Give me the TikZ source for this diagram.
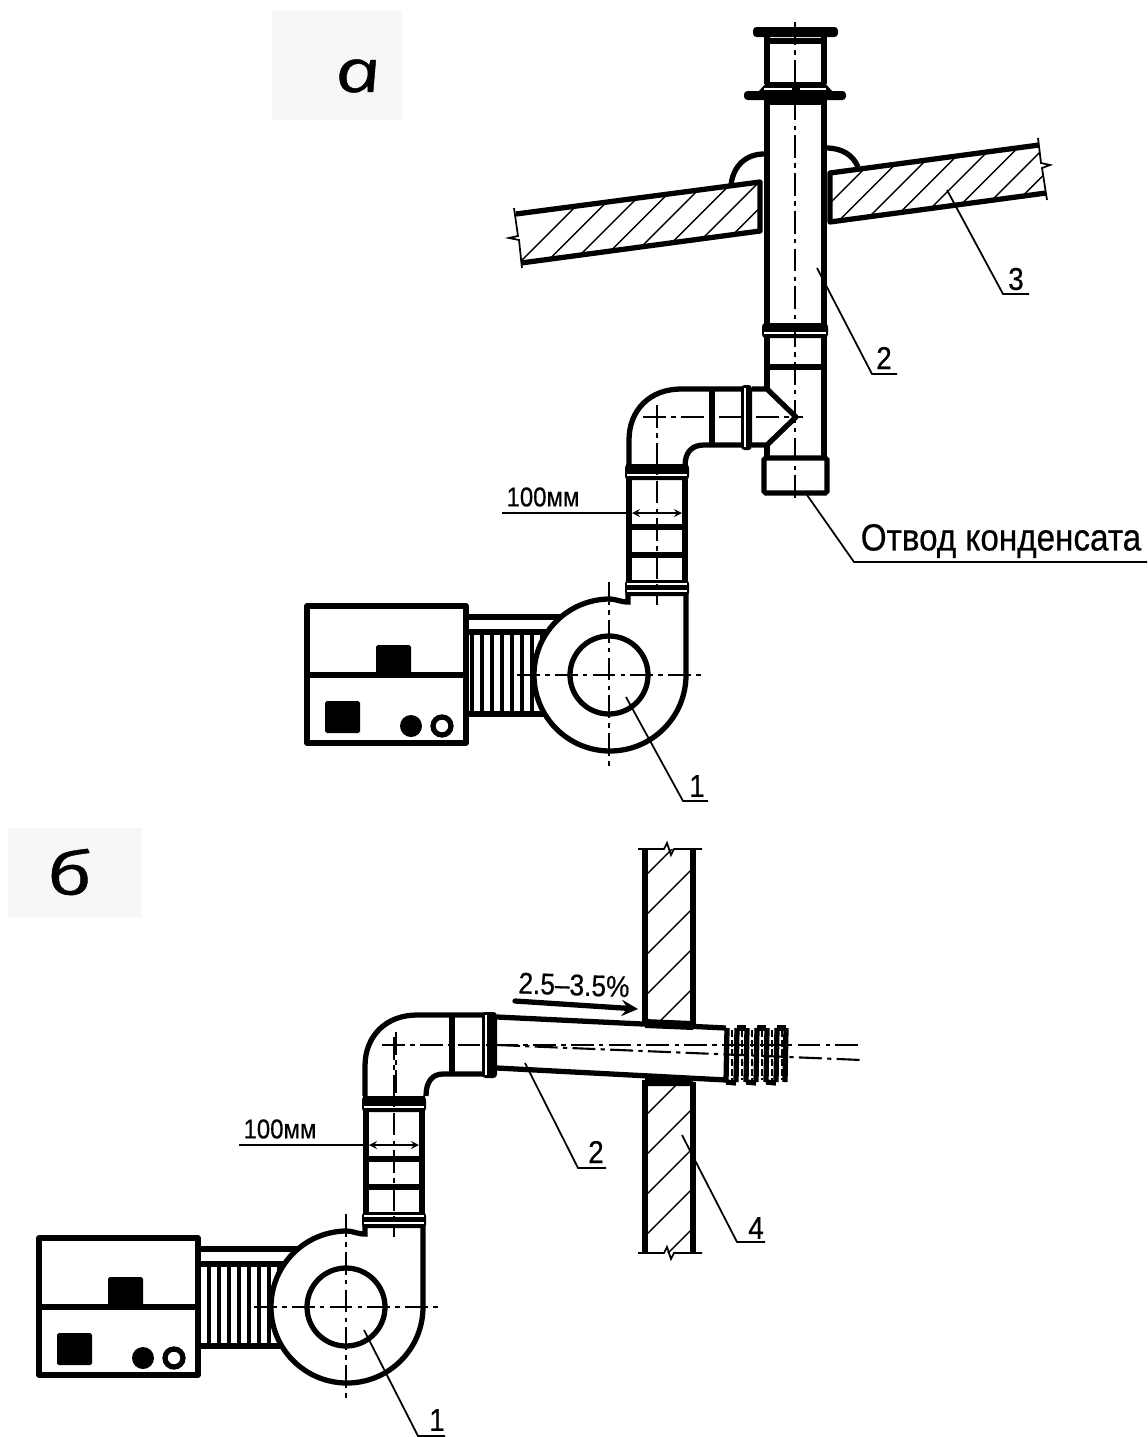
\documentclass[tikz,border=0pt]{standalone}
\usepackage{fontspec}
\setmainfont{Liberation Sans}
\newfontfamily\gostfont[FakeStretch=0.88,FakeBold=0.5]{Liberation Sans}
\newfontfamily\letterfont{Open Sans}[UprightFont=* Italic,FakeSlant=-0.2,FakeStretch=1.35,FakeBold=0.8]
\tikzset{
  pipeline/.style={line width=3pt},
  thinline/.style={line width=1pt},
  hatchline/.style={line width=0.8pt},
  centreline/.style={line width=1.2pt,dash pattern=on 13pt off 3pt on 2.5pt off 3pt},
  numtext/.style={inner sep=0pt,font=\gostfont\fontsize{18}{20}\selectfont},
  dimtext/.style={inner sep=0pt,font=\gostfont\fontsize{15.5}{17}\selectfont},
  lettertext/.style={inner sep=0pt,font=\letterfont\fontsize{34}{38}\selectfont}
}
\begin{document}
\begin{tikzpicture}[x=0.02cm,y=-0.02cm]
      \useasboundingbox (0,0) rectangle (1147,1437);

      %% Faint panels behind the letters
      \fill[black!3] (272,10) rectangle (402,120);
      \fill[black!3] (8,828) rectangle (142,918);
      \node[lettertext] (letterA) at (361,76) {а};
      \node[lettertext] (letterB) at (73,872) {б};

      %% Segment 1: burner, hose, fan and lower pipe (both views)
      \foreach \Ox/\Oy/\Bx in {0/0/0, -263/632/-5}{
        \begin{scope}[shift={(\Ox,\Oy)}]
          % Hose
          \draw[pipeline] (466+\Bx,617) -- (560,617);
          \draw[pipeline] (466+\Bx,632) -- (550,632);
          \draw[pipeline] (466+\Bx,714) -- (550,714);
          \foreach \x in {472,482,...,552} {
            \draw[line width=2.8pt] (\x,632) -- (\x,714);
          }
          % Burner box
          \draw[pipeline,fill=white,line join=round] (307+\Bx,606) rectangle (466+\Bx,743);
          \draw[pipeline] (307+\Bx,675) -- (466+\Bx,675);
          \fill[rounded corners=1pt] (376+\Bx,645) rectangle (411+\Bx,675);
          \fill[rounded corners=1pt] (325+\Bx,701) rectangle (360+\Bx,733);
          \fill (411+\Bx,726) circle (11);
          \draw[pipeline] (442+\Bx,726) circle (9);
          % Fan volute
          \draw[pipeline,fill=white] (686,590) -- (686,675)
            arc[start angle=0,end angle=270,radius=76]
            .. controls (616,599) and (620,602) .. (628,602) -- (628,590);
          \draw[pipeline] (609,675) circle (39);
          % Lower pipe with collars
          \draw[pipeline] (629,464) -- (629,590);
          \draw[pipeline] (685,464) -- (685,590);
          \foreach \yy in {527,555} {
            \draw[pipeline] (629,\yy) -- (685,\yy);
          }
          \fill[rounded corners=2pt] (625,464) rectangle (689,480);
          \fill[rounded corners=2pt] (625,580) rectangle (689,596);
          \draw[white,line width=0.6pt] (627,475) -- (687,475);
          \draw[white,line width=0.6pt] (627,584) -- (687,584);
          \draw[white,line width=0.6pt] (627,591) -- (687,591);
          % Axes
          \draw[centreline] (517,675) -- (702,675);
          \draw[centreline] (609,582) -- (609,767);
          \draw[centreline] (657,405) -- (657,605);
          % Pipe diameter
          \draw[thinline] (502,513) -- (629,513);
          \draw[thinline,<->,>=stealth] (632,513) -- (682,513);
          \node[dimtext] (dimText) at (543,497) {100мм};
        \end{scope}
      }

      %% Segment 2: view a, vertical flue through the roof
      % Roof slabs
      \begin{scope}
        \clip (516,214) -- (760,182) -- (760,231) -- (521,263) -- cycle;
        \foreach \hx in {482,508.5,...,770} {
          \draw[hatchline] (\hx,300) -- (\hx+200,100);
        }
      \end{scope}
      \begin{scope}
        \clip (830,173) -- (1039,145) -- (1046,193) -- (830,222) -- cycle;
        \foreach \hx in {733,759.5,...,1000} {
          \draw[hatchline] (\hx,300) -- (\hx+200,100);
        }
      \end{scope}
      \draw[pipeline,line join=round] (516,214) -- (760,182) -- (760,231) -- (521,263);
      \draw[pipeline,line join=round] (1039,145) -- (830,173) -- (830,222) -- (1046,193);
      \draw[thinline] (514,208) -- (518,236) -- (509,238) -- (519,240) -- (522,268);
      \draw[thinline] (1038,138) -- (1041,163) -- (1050,165) -- (1042,168) -- (1047,200);
      % Flashing
      \draw[pipeline] (731,185) .. controls (733,167) and (745,154) .. (764,154);
      \draw[pipeline] (826,148) .. controls (842,148) and (853,155) .. (858,167);
      % Cowl
      \fill[rounded corners=2pt] (753,27) rectangle (838,37);
      \draw[pipeline] (767,37) -- (767,84);
      \draw[pipeline] (824,37) -- (824,84);
      \draw[pipeline] (767,41) -- (824,41);
      \fill (767,82) -- (824,82) -- (832,91) -- (759,91) -- cycle;
      \fill[rounded corners=2pt] (744,91) rectangle (846,100);
      \fill (765,97) rectangle (826,105);
      \draw[white,line width=0.8pt] (764,89) -- (792,89);
      \draw[white,line width=0.8pt] (800,89) -- (826,89);
      % Upright pipe and tee
      \draw[pipeline] (767,100) -- (767,389);
      \draw[pipeline] (824,100) -- (824,458);
      \draw[pipeline] (767,445) -- (767,458);
      \draw[pipeline] (767,367) -- (824,367);
      \fill[rounded corners=2pt] (762,323) rectangle (828,338);
      \draw[white,line width=0.6pt] (764,333) -- (826,333);
      \draw[pipeline,line join=round] (752,389) -- (767,389) -- (796,417) -- (767,445) -- (752,445);
      \draw[pipeline,rounded corners=1pt] (764,458) rectangle (827,493);
      % Elbow
      \draw[pipeline] (629,466) -- (629,440) .. controls (629,410) and (650,389) .. (681,389) -- (745,389);
      \draw[pipeline] (685,466) .. controls (685,452) and (692,445) .. (704,445) -- (745,445);
      \draw[pipeline] (712,389) -- (712,445);
      \fill[rounded corners=2pt] (741,385) rectangle (752,450);
      \draw[white,line width=0.6pt] (745,388) -- (745,447);
      % Axes
      \draw[centreline] (795,22) -- (795,498);
      \draw[centreline] (643,417) -- (803,417);
      % Leaders
      \draw[thinline] (947,190) -- (1003,294) -- (1029,294);
      \node[numtext] (numThreeA) at (1016,279) {3};
      \draw[thinline] (817,268) -- (872,374) -- (897,374);
      \node[numtext] (numTwoA) at (884,358) {2};
      \draw[thinline] (626,697) -- (683,801) -- (708,801);
      \node[numtext] (numOneA) at (697,786) {1};
      \draw[thinline] (807,495) -- (854,562) -- (1147,562);
      \node[inner sep=0pt,font=\gostfont\fontsize{21.5}{24}\selectfont] (condText) at (1001,541) {Отвод конденсата};

      %% Segment 3: view b, sloped flue through the wall
      % Wall
      \begin{scope}
        \clip (645,849) rectangle (693,1025) (645,1082) rectangle (693,1253);
        \foreach \hs in {1481,1521,...,1961} {
          \draw[hatchline] (500,\hs-500) -- (800,\hs-800);
        }
      \end{scope}
      \draw[pipeline] (645,849) -- (645,1022);
      \draw[pipeline] (693,849) -- (693,1027);
      \draw[pipeline] (645,1080) -- (645,1253);
      \draw[pipeline] (693,1082) -- (693,1253);
      \fill (645,1019) -- (693,1021) -- (693,1030) -- (645,1028) -- cycle;
      \fill (645,1075) -- (693,1078) -- (693,1086) -- (645,1086) -- cycle;
      \foreach \yy in {849,1253} {
        \draw[thinline] (638,\yy) -- (664,\yy) -- (667,\yy-6) -- (671,\yy+6) -- (674,\yy) -- (702,\yy);
      }
      % Sloped pipe
      \draw[pipeline] (497,1017) -- (726,1028);
      \draw[pipeline] (497,1068) -- (726,1080);
      % Terminal
      \foreach \rx in {727,737,747,757,767,777,786} {
        \draw[line width=3pt] (\rx,1028) -- (\rx-1,1082);
      }
      \foreach \rx in {727,747,767} {
        \draw[line width=3pt] (\rx-1,1082) -- (\rx+9,1083);
      }
      \foreach \rx in {737,757,777} {
        \draw[line width=3pt] (\rx,1028) -- (\rx+9,1028);
      }
      \foreach \rx in {732,742,752,762,772,782} {
        \draw[line width=1.2pt,dash pattern=on 4pt off 1.5pt] (\rx,1030) -- (\rx,1080);
      }
      % Elbow
      \draw[pipeline] (365,1096) -- (365,1066) .. controls (365,1036) and (386,1015) .. (417,1015) -- (485,1015);
      \draw[pipeline] (426,1096) .. controls (426,1082) and (432,1074) .. (443,1074) -- (485,1074);
      \draw[pipeline] (452,1015) -- (452,1074);
      \fill[rounded corners=2pt] (482,1012) rectangle (497,1078);
      \draw[white,line width=0.6pt] (486,1015) -- (486,1075);
      % Axes
      \draw[centreline] (382,1045) -- (862,1045);
      \draw[centreline] (497,1045) -- (862,1060);
      \draw[centreline] (396,1032) -- (396,1100);
      % Slope mark
      \draw[line width=3pt,line cap=round,-stealth] (515,1001) -- (638,1009);
      \node[inner sep=0pt,rotate=-2,font=\gostfont\fontsize{17}{20}\selectfont] (slopeText) at (574,985) {2.5–3.5\%};
      % Leaders
      \draw[thinline] (525,1063) -- (578,1168) -- (606,1168);
      \node[numtext] (numTwoB) at (596,1152) {2};
      \draw[thinline] (682,1135) -- (737,1242) -- (765,1242);
      \node[numtext] (numFourB) at (756,1228) {4};
      \draw[thinline] (364,1330) -- (418,1436) -- (445,1436);
      \node[numtext] (numOneB) at (437,1420) {1};
\end{tikzpicture}
\end{document}
